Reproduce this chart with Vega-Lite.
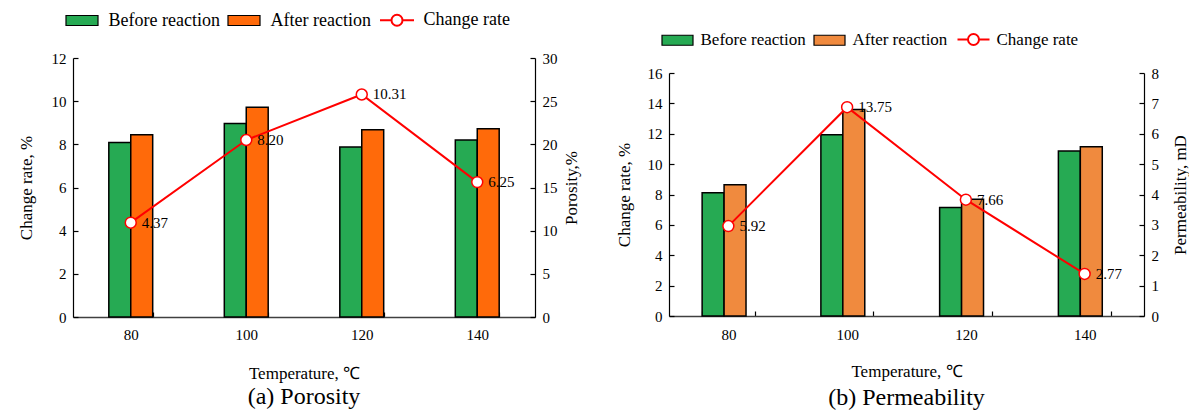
{
  "$schema": "https://vega.github.io/schema/vega-lite/v6.json",
  "padding": {"left": 17, "top": 11, "right": 0, "bottom": 0},
  "datasets": {
    "poro": [
      {"temp": "80", "phase": "Before reaction", "value": 20.2},
      {"temp": "80", "phase": "After reaction", "value": 21.1},
      {"temp": "100", "phase": "Before reaction", "value": 22.4},
      {"temp": "100", "phase": "After reaction", "value": 24.3},
      {"temp": "120", "phase": "Before reaction", "value": 19.7},
      {"temp": "120", "phase": "After reaction", "value": 21.7},
      {"temp": "140", "phase": "Before reaction", "value": 20.5},
      {"temp": "140", "phase": "After reaction", "value": 21.8}
    ],
    "poroRate": [
      {"temp": "80", "rate": 4.37},
      {"temp": "100", "rate": 8.20},
      {"temp": "120", "rate": 10.31},
      {"temp": "140", "rate": 6.25}
    ],
    "perm": [
      {"temp": "80", "phase": "Before reaction", "value": 4.06},
      {"temp": "80", "phase": "After reaction", "value": 4.32},
      {"temp": "100", "phase": "Before reaction", "value": 5.97},
      {"temp": "100", "phase": "After reaction", "value": 6.80},
      {"temp": "120", "phase": "Before reaction", "value": 3.57},
      {"temp": "120", "phase": "After reaction", "value": 3.84},
      {"temp": "140", "phase": "Before reaction", "value": 5.43},
      {"temp": "140", "phase": "After reaction", "value": 5.57}
    ],
    "permRate": [
      {"temp": "80", "rate": 5.92},
      {"temp": "100", "rate": 13.75},
      {"temp": "120", "rate": 7.66},
      {"temp": "140", "rate": 2.77}
    ]
  },
  "hconcat": [
    {
      "width": 462,
      "height": 259,
      "title": {"text": "(a) Porosity", "orient": "bottom", "offset": 4},
      "layer": [
        {
          "data": {"name": "poro"},
          "mark": {"type": "bar", "stroke": "black", "strokeWidth": 1.5},
          "encoding": {
            "x": {"field": "temp", "type": "ordinal", "sort": ["80", "100", "120", "140"],
              "scale": {"paddingInner": 0.62, "paddingOuter": 0.31},
              "axis": {"title": "Temperature, ℃", "labelAngle": 0, "tickBand": "extent", "labelPadding": 15, "titlePadding": 23, "domainColor": "#404040", "domainWidth": 1.5}},
            "xOffset": {"field": "phase", "sort": ["Before reaction", "After reaction"]},
            "y": {"field": "value", "type": "quantitative", "scale": {"domain": [0, 30]},
              "axis": {"orient": "right", "title": "Porosity,%", "values": [0, 5, 10, 15, 20, 25, 30], "titleAngle": 270, "titleBaseline": "top", "labelPadding": 12, "titlePadding": 6}},
            "fill": {"field": "phase", "type": "nominal",
              "scale": {"domain": ["Before reaction", "After reaction", "Change rate"], "range": ["#26aa53", "#ff6a0a", "white"]},
              "legend": {"orient": "top", "direction": "horizontal", "title": null, "symbolSize": 400, "labelOffset": 17.5, "columnPadding": 5, "offset": 28, "labelFontSize": 18,
                "labelExpr": "datum.label === 'Change rate' ? '\u00a0\u00a0\u00a0Change rate' : datum.label",
                "symbolType": {"expr": "datum.value === 'Change rate' ? 'M-1.7,0H-0.55M0.55,0H1.7M0.55,0A0.55,0.55,0,1,1,-0.55,0A0.55,0.55,0,1,1,0.55,0' : 'M-1.6,-0.5H1.6V0.5H-1.6Z'"},
                "symbolStrokeColor": {"expr": "datum.value === 'Change rate' ? '#ff0000' : 'black'"},
                "symbolStrokeWidth": {"expr": "datum.value === 'Change rate' ? 2 : 1.2"}}}
          }
        },
        {
          "data": {"name": "poroRate"},
          "encoding": {
            "x": {"field": "temp", "type": "ordinal", "sort": ["80", "100", "120", "140"]},
            "y": {"field": "rate", "type": "quantitative", "scale": {"domain": [0, 12]},
              "axis": {"orient": "left", "title": "Change rate, %", "values": [0, 2, 4, 6, 8, 10, 12], "labelPadding": 12, "titlePadding": 16}}
          },
          "layer": [
            {"mark": {"type": "line", "color": "#ff0000", "strokeWidth": 2}},
            {"mark": {"type": "point", "shape": "circle", "filled": true, "stroke": "#ff0000", "strokeWidth": 1.5, "size": 120, "opacity": 1},
              "encoding": {"fill": {"datum": "Change rate", "type": "nominal",
                "legend": {"orient": "top", "direction": "horizontal", "title": null, "symbolSize": 400, "labelOffset": 17.5, "columnPadding": 5, "offset": 28, "labelFontSize": 18,
                  "labelExpr": "datum.label === 'Change rate' ? '\u00a0\u00a0\u00a0Change rate' : datum.label",
                  "symbolType": {"expr": "datum.value === 'Change rate' ? 'M-1.7,0H-0.55M0.55,0H1.7M0.55,0A0.55,0.55,0,1,1,-0.55,0A0.55,0.55,0,1,1,0.55,0' : 'M-1.6,-0.5H1.6V0.5H-1.6Z'"},
                  "symbolStrokeColor": {"expr": "datum.value === 'Change rate' ? '#ff0000' : 'black'"},
                  "symbolStrokeWidth": {"expr": "datum.value === 'Change rate' ? 2 : 1.2"}}}}},
            {"mark": {"type": "text", "align": "left", "baseline": "middle", "dx": 11, "fontSize": 15, "font": "Liberation Serif", "color": "black"},
              "encoding": {"text": {"field": "rate", "type": "quantitative", "format": ".2f"}}}
          ]
        }
      ],
      "resolve": {"scale": {"y": "independent"}}
    },
    {
      "width": 475,
      "height": 258,
      "title": {"text": "(b) Permeability", "orient": "bottom", "offset": 7},
      "layer": [
        {
          "data": {"name": "perm"},
          "mark": {"type": "bar", "stroke": "black", "strokeWidth": 1.5},
          "encoding": {
            "x": {"field": "temp", "type": "ordinal", "sort": ["80", "100", "120", "140"],
              "scale": {"paddingInner": 0.558, "paddingOuter": 0.279},
              "axis": {"title": "Temperature, ℃", "labelAngle": 0, "tickBand": "extent", "labelPadding": 16, "titlePadding": 21, "domainColor": "#404040", "domainWidth": 1.5}},
            "xOffset": {"field": "phase", "sort": ["Before reaction", "After reaction"]},
            "y": {"field": "value", "type": "quantitative", "scale": {"domain": [0, 8], "range": [258, 15]},
              "axis": {"orient": "right", "title": "Permeability, mD", "values": [0, 1, 2, 3, 4, 5, 6, 7, 8], "titleAngle": 270, "titleBaseline": "top", "labelPadding": 12, "titlePadding": 14}},
            "fill": {"field": "phase", "type": "nominal",
              "scale": {"domain": ["Before reaction", "After reaction", "Change rate"], "range": ["#26aa53", "#f08a3e", "white"]},
              "legend": {"orient": "top", "direction": "horizontal", "title": null, "symbolSize": 400, "labelOffset": 14.5, "columnPadding": 5, "offset": 9, "labelFontSize": 17,
                "labelExpr": "datum.label === 'Change rate' ? '\u00a0\u00a0\u00a0Change rate' : datum.label",
                "symbolType": {"expr": "datum.value === 'Change rate' ? 'M-1.6,0H-0.55M0.55,0H1.6M0.55,0A0.55,0.55,0,1,1,-0.55,0A0.55,0.55,0,1,1,0.55,0' : 'M-1.55,-0.5H1.55V0.5H-1.55Z'"},
                "symbolStrokeColor": {"expr": "datum.value === 'Change rate' ? '#ff0000' : 'black'"},
                "symbolStrokeWidth": {"expr": "datum.value === 'Change rate' ? 2 : 1.2"}}}
          }
        },
        {
          "data": {"name": "permRate"},
          "encoding": {
            "x": {"field": "temp", "type": "ordinal", "sort": ["80", "100", "120", "140"]},
            "y": {"field": "rate", "type": "quantitative", "scale": {"domain": [0, 16], "range": [258, 15]},
              "axis": {"orient": "left", "title": "Change rate, %", "values": [0, 2, 4, 6, 8, 10, 12, 14, 16], "labelPadding": 12, "titlePadding": 14}}
          },
          "layer": [
            {"mark": {"type": "line", "color": "#ff0000", "strokeWidth": 2}},
            {"mark": {"type": "point", "shape": "circle", "filled": true, "stroke": "#ff0000", "strokeWidth": 1.5, "size": 120, "opacity": 1},
              "encoding": {"fill": {"datum": "Change rate", "type": "nominal",
                "legend": {"orient": "top", "direction": "horizontal", "title": null, "symbolSize": 400, "labelOffset": 14.5, "columnPadding": 5, "offset": 9, "labelFontSize": 17,
                  "labelExpr": "datum.label === 'Change rate' ? '\u00a0\u00a0\u00a0Change rate' : datum.label",
                  "symbolType": {"expr": "datum.value === 'Change rate' ? 'M-1.6,0H-0.55M0.55,0H1.6M0.55,0A0.55,0.55,0,1,1,-0.55,0A0.55,0.55,0,1,1,0.55,0' : 'M-1.55,-0.5H1.55V0.5H-1.55Z'"},
                  "symbolStrokeColor": {"expr": "datum.value === 'Change rate' ? '#ff0000' : 'black'"},
                  "symbolStrokeWidth": {"expr": "datum.value === 'Change rate' ? 2 : 1.2"}}}}},
            {"mark": {"type": "text", "align": "left", "baseline": "middle", "dx": 11, "fontSize": 15, "font": "Liberation Serif", "color": "black"},
              "encoding": {"text": {"field": "rate", "type": "quantitative", "format": ".2f"}}}
          ]
        }
      ],
      "resolve": {"scale": {"y": "independent"}}
    }
  ],
  "spacing": 36,
  "resolve": {"scale": {"fill": "independent"}, "legend": {"fill": "independent"}},
  "config": {
    "view": {"stroke": null},
    "font": "Liberation Serif",
    "axis": {"labelFont": "Liberation Serif", "titleFont": "Liberation Serif", "labelFontSize": 15, "titleFontSize": 17, "titleFontWeight": "normal", "labelColor": "black", "titleColor": "black", "domainColor": "black", "tickColor": "black", "grid": false, "tickSize": -5, "domainWidth": 1.2, "tickWidth": 1.2},
    "legend": {"labelFont": "Liberation Serif", "labelFontSize": 16, "labelColor": "black"},
    "title": {"font": "Liberation Serif", "fontSize": 24, "fontWeight": "normal", "color": "black"}
  }
}
